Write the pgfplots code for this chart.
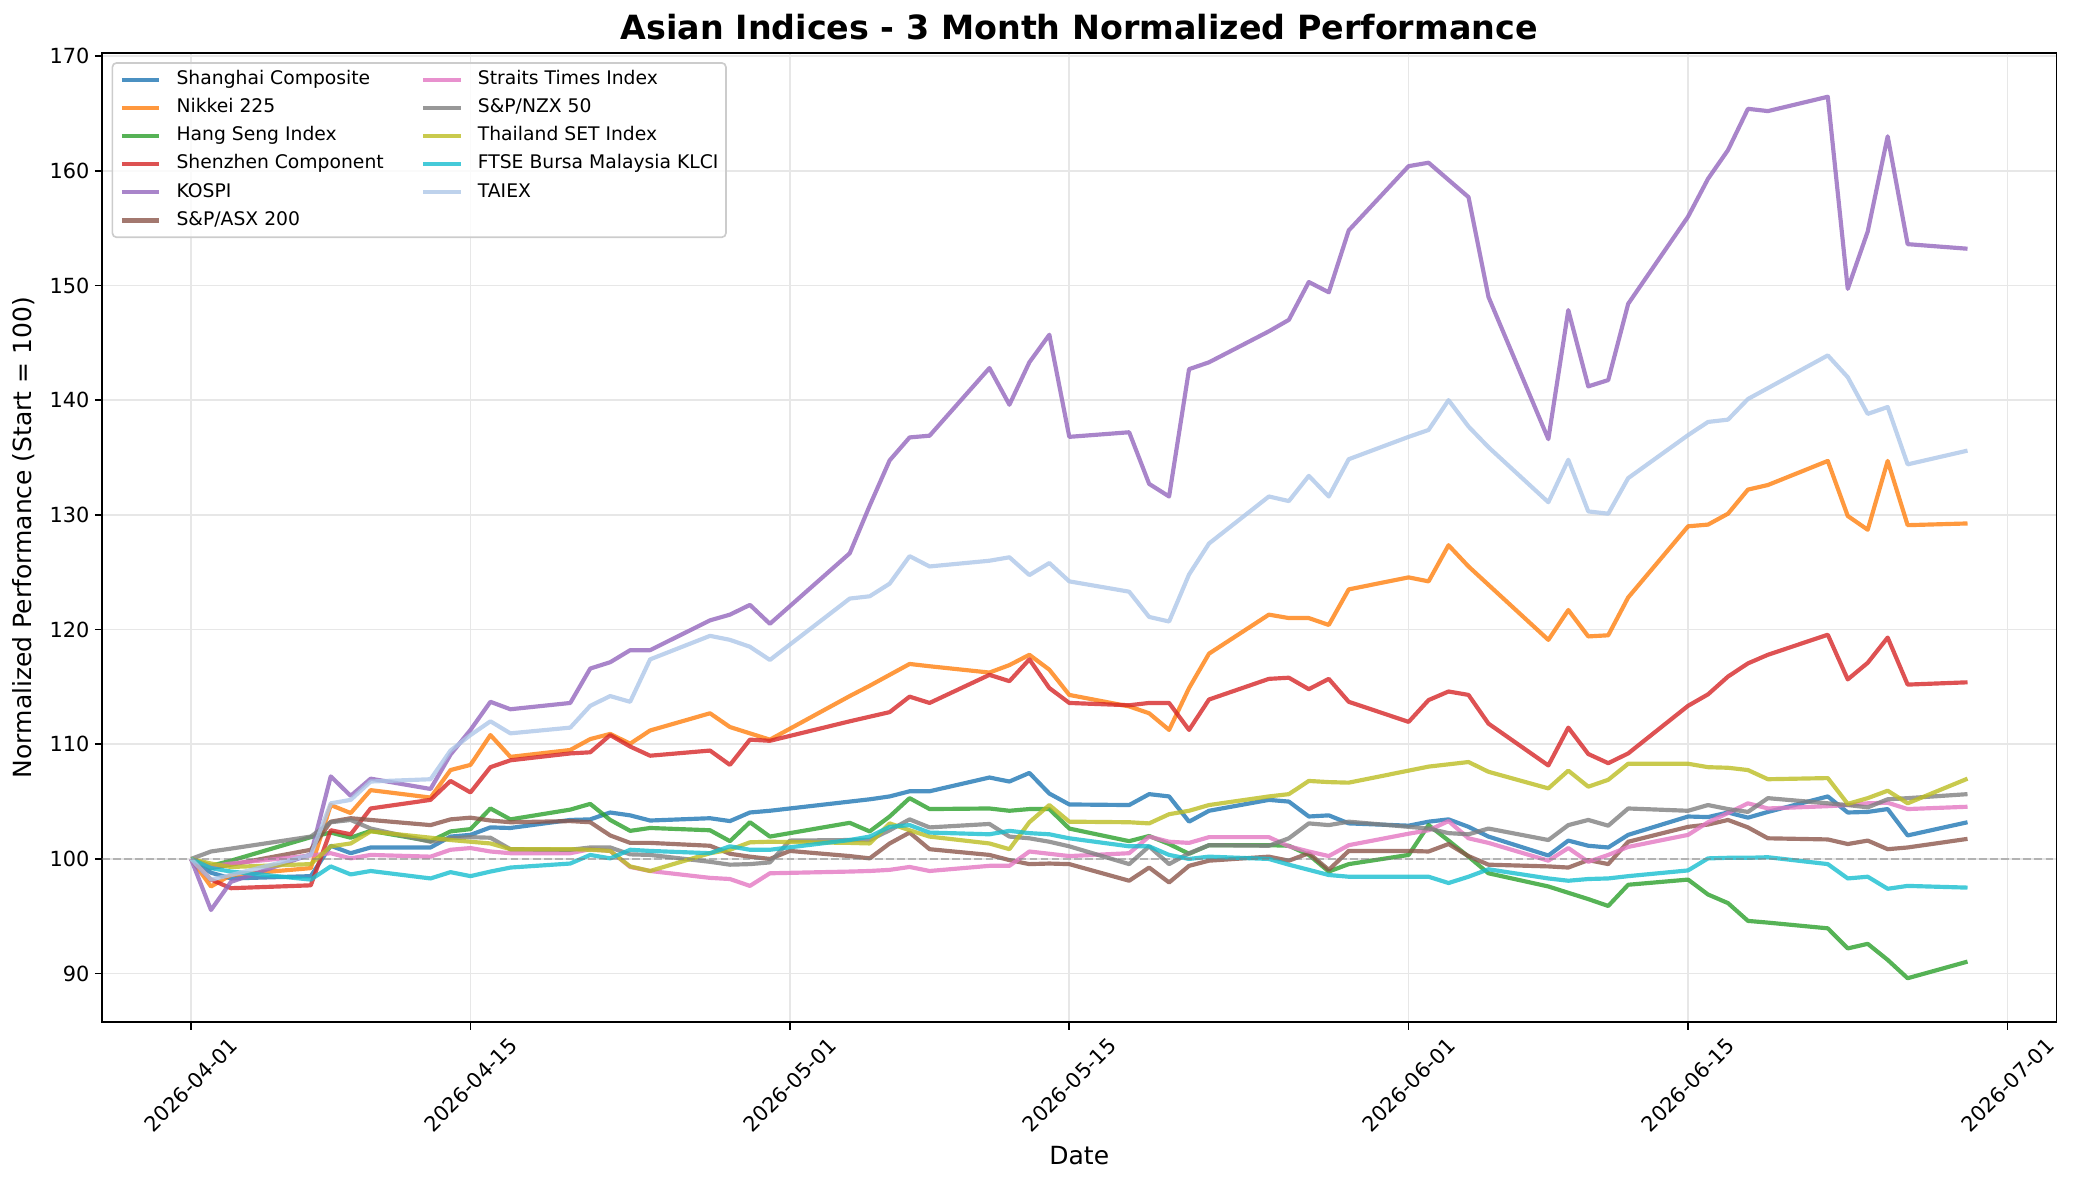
\documentclass[border=0pt]{standalone}
\usepackage{fontspec}
\setmainfont{DejaVu Sans}
\usepackage{pgfplots}
\pgfplotsset{compat=1.18}
\definecolor{cSH}{HTML}{1F77B4}
\definecolor{cNK}{HTML}{FF7F0E}
\definecolor{cHS}{HTML}{2CA02C}
\definecolor{cSZ}{HTML}{D62728}
\definecolor{cKO}{HTML}{9467BD}
\definecolor{cAS}{HTML}{8C564B}
\definecolor{cST}{HTML}{E377C2}
\definecolor{cNZ}{HTML}{7F7F7F}
\definecolor{cTH}{HTML}{BCBD22}
\definecolor{cKL}{HTML}{17BECF}
\definecolor{cTA}{HTML}{AEC7E8}
\definecolor{gridc}{HTML}{E7E7E7}
\definecolor{legc}{HTML}{CCCCCC}
\begin{document}
\begin{tikzpicture}
\useasboundingbox (-49.06pt,-77.6pt) rectangle (946pt,490.7pt);
\begin{axis}[
  at={(0pt,0pt)}, anchor=south west,
  scale only axis, width=938pt, height=465.4pt,
  xmin=-4.45, xmax=93.45, ymin=85.76, ymax=170.29,
  axis line style={black, line width=0.8pt},
  tick align=outside, xtick pos=left, ytick pos=left,
  major tick length=3.5pt,
  every tick/.style={black, line width=0.8pt},
  xtick={0,14,30,44,61,75,91},
  xticklabels={2026-04-01,2026-04-15,2026-05-01,2026-05-15,2026-06-01,2026-06-15,2026-07-01},
  ytick={90,100,...,170},
  /pgf/number format/assume math mode=true,
  ticklabel style={font=\fontsize{10}{12}\selectfont},
  xticklabel style={yshift=-26.6pt, rotate=45, anchor=center, inner sep=0pt},
  yticklabel style={anchor=east, inner sep=0pt, xshift=-2.5pt},
  grid=major,
  major grid style={gridc, line width=0.8pt},
  title={\fontsize{16}{19}\selectfont\bfseries Asian Indices - 3 Month Normalized Performance},
  title style={at={(axis description cs:0.5,1)}, anchor=base, yshift=0.5pt, inner sep=0pt},
  xlabel={\fontsize{12}{14}\selectfont Date},
  xlabel style={at={(axis description cs:0.5,-0.1373)}, anchor=center, inner sep=0pt},
  ylabel={\fontsize{12}{14}\selectfont Normalized Performance (Start = 100)},
  ylabel style={at={(axis description cs:-0.0401,0.5)}, anchor=center, rotate=0, inner sep=0pt},
  every axis plot/.append style={line width=2pt, draw opacity=0.8, line join=round},
  legend image code/.code={\draw[#1, line width=2pt] (0pt,0pt) -- (18pt,0pt);},
  legend columns=6, transpose legend,
  legend cell align=left,
  legend style={at={(axis description cs:0,1)}, anchor=north west, xshift=4.5pt, yshift=-4.5pt,
    draw=legc, line width=0.8pt, rounded corners=2pt, fill=white, fill opacity=0.8, text opacity=1,
    font=\fontsize{9}{11}\selectfont, inner xsep=3.6pt, inner ysep=3.6pt, row sep=4.5pt,
    nodes={inner sep=0pt, text height=6.8pt, text depth=2.2pt},
    /tikz/every odd column/.append style={column sep=7.2pt},
    /tikz/every even column/.append style={column sep=18pt}},
]
% Shanghai Composite
\addplot[cSH] coordinates {(0,100) (1,98.8) (2,98.3) (6,98.5) (7,101.15) (8,100.5) (9,101.0) (12,101.0) (13,101.95) (14,102.1) (15,102.75) (16,102.7) (19,103.4) (20,103.45) (21,104.05) (22,103.8) (23,103.35) (26,103.55) (27,103.3) (28,104.05) (29,104.2) (33,105.0) (34,105.2) (35,105.45) (36,105.9) (37,105.9) (40,107.1) (41,106.75) (42,107.5) (43,105.7) (44,104.75) (47,104.7) (48,105.65) (49,105.45) (50,103.25) (51,104.2) (54,105.15) (55,105.0) (56,103.7) (57,103.8) (58,103.1) (61,102.9) (62,103.25) (63,103.45) (64,102.8) (65,101.95) (68,100.3) (69,101.6) (70,101.15) (71,101.0) (72,102.1) (75,103.7) (76,103.65) (77,104.05) (78,103.6) (79,104.1) (82,105.45) (83,104.05) (84,104.1) (85,104.35) (86,102.05) (89,103.2)};
\addlegendentry{Shanghai Composite}
% Nikkei 225
\addplot[cNK] coordinates {(0,100) (1,97.6) (2,98.6) (6,99.2) (7,104.7) (8,104.0) (9,106.0) (12,105.35) (13,107.75) (14,108.2) (15,110.8) (16,108.9) (19,109.5) (20,110.45) (21,110.9) (22,110.05) (23,111.2) (26,112.7) (27,111.5) (28,110.95) (29,110.4) (33,114.2) (34,115.1) (35,116.05) (36,117.0) (37,116.8) (40,116.25) (41,116.9) (42,117.8) (43,116.5) (44,114.3) (47,113.3) (48,112.7) (49,111.25) (50,114.9) (51,117.9) (54,121.3) (55,121.0) (56,121.0) (57,120.4) (58,123.5) (61,124.55) (62,124.2) (63,127.35) (64,125.5) (65,123.9) (68,119.1) (69,121.7) (70,119.4) (71,119.5) (72,122.8) (75,129.0) (76,129.15) (77,130.1) (78,132.2) (79,132.6) (82,134.7) (83,129.9) (84,128.7) (85,134.7) (86,129.1) (89,129.25)};
\addlegendentry{Nikkei 225}
% Hang Seng Index
\addplot[cHS] coordinates {(0,100) (1,99.4) (2,99.85) (6,101.9) (7,102.3) (8,101.85) (9,102.45) (12,101.55) (13,102.4) (14,102.6) (15,104.4) (16,103.45) (19,104.3) (20,104.8) (21,103.4) (22,102.45) (23,102.7) (26,102.5) (27,101.55) (28,103.2) (29,101.95) (33,103.15) (34,102.4) (35,103.7) (36,105.3) (37,104.35) (40,104.4) (41,104.2) (42,104.35) (43,104.35) (44,102.65) (47,101.55) (48,102.0) (49,101.3) (50,100.45) (51,101.2) (54,101.2) (55,101.15) (56,100.35) (57,98.9) (58,99.55) (61,100.35) (62,102.95) (63,101.6) (64,100.2) (65,98.75) (68,97.6) (69,97.05) (70,96.5) (71,95.9) (72,97.75) (75,98.2) (76,96.9) (77,96.15) (78,94.6) (79,94.45) (82,93.95) (83,92.2) (84,92.6) (85,91.2) (86,89.6) (89,91.05)};
\addlegendentry{Hang Seng Index}
% Shenzhen Component
\addplot[cSZ] coordinates {(0,100) (1,98.2) (2,97.45) (6,97.7) (7,102.5) (8,102.15) (9,104.4) (12,105.15) (13,106.8) (14,105.8) (15,108.0) (16,108.6) (19,109.2) (20,109.3) (21,110.8) (22,109.8) (23,109.0) (26,109.45) (27,108.2) (28,110.4) (29,110.3) (33,112.0) (34,112.4) (35,112.8) (36,114.15) (37,113.6) (40,116.05) (41,115.5) (42,117.4) (43,114.9) (44,113.6) (47,113.4) (48,113.6) (49,113.6) (50,111.25) (51,113.9) (54,115.7) (55,115.8) (56,114.8) (57,115.7) (58,113.7) (61,111.95) (62,113.85) (63,114.6) (64,114.3) (65,111.8) (68,108.15) (69,111.45) (70,109.15) (71,108.35) (72,109.2) (75,113.35) (76,114.35) (77,115.9) (78,117.05) (79,117.8) (82,119.55) (83,115.65) (84,117.1) (85,119.3) (86,115.2) (89,115.4)};
\addlegendentry{Shenzhen Component}
% KOSPI
\addplot[cKO] coordinates {(0,100) (1,95.55) (2,98.0) (6,100.4) (7,107.2) (8,105.5) (9,107.0) (12,106.1) (13,109.1) (14,111.25) (15,113.7) (16,113.05) (19,113.6) (20,116.6) (21,117.15) (22,118.2) (23,118.2) (26,120.8) (27,121.3) (28,122.15) (29,120.5) (33,126.65) (34,130.8) (35,134.75) (36,136.75) (37,136.9) (40,142.8) (41,139.6) (42,143.3) (43,145.7) (44,136.8) (47,137.2) (48,132.7) (49,131.6) (50,142.7) (51,143.3) (54,146.0) (55,147.0) (56,150.3) (57,149.4) (58,154.8) (61,160.4) (62,160.7) (63,159.2) (64,157.7) (65,149.0) (68,136.6) (69,147.85) (70,141.2) (71,141.75) (72,148.4) (75,156.0) (76,159.3) (77,161.8) (78,165.4) (79,165.2) (82,166.45) (83,149.7) (84,154.7) (85,163.0) (86,153.6) (89,153.2)};
\addlegendentry{KOSPI}
% S&P/ASX 200
\addplot[cAS] coordinates {(0,100) (1,99.2) (2,99.5) (6,100.8) (7,103.25) (8,103.55) (9,103.4) (12,102.95) (13,103.45) (14,103.6) (15,103.35) (16,103.2) (19,103.3) (20,103.2) (21,102.05) (22,101.4) (23,101.4) (26,101.15) (27,100.45) (28,100.2) (29,100.0) (30,100.7) (33,100.25) (34,100.05) (35,101.35) (36,102.3) (37,100.85) (40,100.35) (41,99.9) (42,99.55) (43,99.6) (44,99.55) (47,98.1) (48,99.25) (49,97.95) (50,99.4) (51,99.85) (54,100.2) (55,99.85) (56,100.5) (57,99.05) (58,100.7) (61,100.7) (62,100.65) (63,101.3) (64,100.25) (65,99.5) (68,99.35) (69,99.25) (70,99.9) (71,99.55) (72,101.5) (75,102.8) (76,103.0) (77,103.4) (78,102.75) (79,101.8) (82,101.7) (83,101.3) (84,101.6) (85,100.85) (86,101.0) (89,101.75)};
\addlegendentry{S\&P/ASX 200}
% Straits Times Index
\addplot[cST] coordinates {(0,100) (1,99.35) (2,99.6) (6,100.3) (7,100.5) (8,100.05) (9,100.35) (12,100.2) (13,100.8) (14,100.95) (15,100.65) (16,100.5) (19,100.5) (20,100.85) (21,100.7) (22,99.3) (23,98.95) (26,98.35) (27,98.25) (28,97.65) (29,98.75) (33,98.9) (34,98.95) (35,99.05) (36,99.3) (37,98.95) (40,99.4) (41,99.4) (42,100.65) (43,100.45) (44,100.25) (47,100.5) (48,101.95) (49,101.5) (50,101.4) (51,101.9) (54,101.9) (55,101.1) (56,100.65) (57,100.25) (58,101.2) (61,102.2) (62,102.5) (63,103.3) (64,101.8) (65,101.4) (68,99.85) (69,100.95) (70,99.75) (71,100.35) (72,101.05) (75,102.1) (76,103.2) (77,104.0) (78,104.85) (79,104.4) (82,104.6) (83,104.7) (84,104.85) (85,104.9) (86,104.35) (89,104.55)};
\addlegendentry{Straits Times Index}
% S&P/NZX 50
\addplot[cNZ] coordinates {(0,100) (1,100.65) (2,100.9) (6,101.95) (7,103.2) (8,103.4) (9,102.65) (12,101.5) (13,101.8) (14,101.9) (15,101.85) (16,100.85) (19,100.8) (20,101.0) (21,101.0) (22,100.4) (23,100.35) (26,99.75) (27,99.5) (28,99.55) (29,99.7) (30,101.6) (33,101.65) (34,101.65) (35,102.5) (36,103.45) (37,102.75) (40,103.05) (41,101.95) (42,101.8) (43,101.5) (44,101.1) (47,99.55) (48,101.1) (49,99.55) (50,100.5) (51,101.2) (54,101.15) (55,101.8) (56,103.1) (57,102.95) (58,103.25) (61,102.8) (62,102.65) (63,102.25) (64,102.15) (65,102.65) (68,101.65) (69,102.95) (70,103.4) (71,102.9) (72,104.4) (75,104.2) (76,104.7) (77,104.35) (78,104.1) (79,105.3) (82,104.85) (83,104.7) (84,104.5) (85,105.2) (86,105.3) (89,105.65)};
\addlegendentry{S\&P/NZX 50}
% Thailand SET Index
\addplot[cTH] coordinates {(0,100) (1,99.6) (2,99.3) (6,99.55) (7,101.1) (8,101.35) (9,102.4) (12,101.85) (13,101.65) (14,101.5) (15,101.35) (16,100.85) (19,100.85) (20,100.8) (21,100.7) (22,99.35) (23,98.95) (26,100.5) (27,100.8) (28,101.45) (29,101.5) (33,101.4) (34,101.35) (35,103.1) (36,102.5) (37,101.95) (40,101.35) (41,100.85) (42,103.2) (43,104.7) (44,103.25) (47,103.2) (48,103.1) (49,103.9) (50,104.2) (51,104.7) (54,105.45) (55,105.65) (56,106.8) (57,106.7) (58,106.65) (61,107.7) (62,108.05) (63,108.25) (64,108.45) (65,107.6) (68,106.15) (69,107.7) (70,106.3) (71,106.9) (72,108.3) (75,108.3) (76,108.0) (77,107.95) (78,107.75) (79,106.95) (82,107.05) (83,104.8) (84,105.3) (85,105.95) (86,104.85) (89,107.0)};
\addlegendentry{Thailand SET Index}
% FTSE Bursa Malaysia KLCI
\addplot[cKL] coordinates {(0,100) (1,99.2) (2,98.9) (6,98.2) (7,99.35) (8,98.65) (9,98.95) (12,98.3) (13,98.85) (14,98.5) (15,98.9) (16,99.25) (19,99.6) (20,100.35) (21,100.05) (22,100.8) (23,100.7) (26,100.5) (27,101.1) (28,100.8) (29,100.8) (33,101.65) (34,101.95) (35,102.8) (36,102.95) (37,102.3) (40,102.15) (41,102.45) (42,102.25) (43,102.15) (44,101.8) (47,101.1) (48,101.1) (49,100.35) (50,100.0) (51,100.2) (54,100.0) (55,99.5) (56,99.05) (57,98.6) (58,98.45) (61,98.45) (62,98.45) (63,97.9) (64,98.45) (65,99.1) (68,98.3) (69,98.1) (70,98.25) (71,98.3) (72,98.5) (75,99.0) (76,100.05) (77,100.1) (78,100.1) (79,100.15) (82,99.55) (83,98.3) (84,98.45) (85,97.4) (86,97.65) (89,97.5)};
\addlegendentry{FTSE Bursa Malaysia KLCI}
% TAIEX
\addplot[cTA] coordinates {(0,100) (1,98.2) (2,98.6) (6,100.35) (7,104.85) (8,105.15) (9,106.75) (12,106.95) (13,109.45) (14,110.8) (15,112.0) (16,110.95) (19,111.45) (20,113.35) (21,114.2) (22,113.7) (23,117.4) (26,119.45) (27,119.1) (28,118.5) (29,117.35) (33,122.7) (34,122.9) (35,124.0) (36,126.4) (37,125.5) (40,126.0) (41,126.3) (42,124.75) (43,125.8) (44,124.2) (47,123.3) (48,121.1) (49,120.7) (50,124.8) (51,127.5) (54,131.6) (55,131.2) (56,133.4) (57,131.6) (58,134.85) (61,136.8) (62,137.4) (63,140.0) (64,137.7) (65,135.9) (68,131.1) (69,134.8) (70,130.3) (71,130.1) (72,133.2) (75,136.95) (76,138.1) (77,138.3) (78,140.1) (79,141.05) (82,143.9) (83,142.0) (84,138.8) (85,139.4) (86,134.4) (89,135.6)};
\addlegendentry{TAIEX}
% reference line at 100
\addplot[forget plot, gray, line width=1pt, draw opacity=0.5, dash pattern=on 3.7pt off 1.6pt] coordinates {(-4.45,100) (93.45,100)};
\end{axis}
\end{tikzpicture}
\end{document}
